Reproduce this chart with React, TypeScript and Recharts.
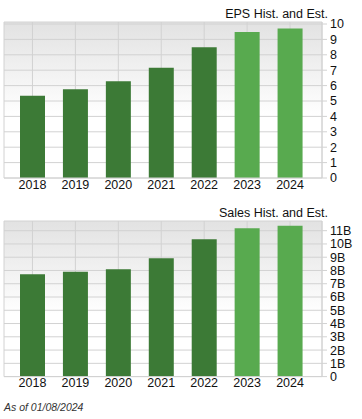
import React from 'react';
import { BarChart, Bar, XAxis, YAxis, CartesianGrid, Cell } from 'recharts';

const years = ['2018', '2019', '2020', '2021', '2022', '2023', '2024'];
const isEstimate = [false, false, false, false, false, true, true];
const epsValues = [5.34, 5.76, 6.28, 7.16, 8.49, 9.48, 9.7];
const salesValuesB = [7.71, 7.91, 8.09, 8.92, 10.35, 11.18, 11.38];
const epsTicks = [0, 1, 2, 3, 4, 5, 6, 7, 8, 9, 10];
const salesTicks = [0, 1, 2, 3, 4, 5, 6, 7, 8, 9, 10, 11];

const epsData = years.map((y, i) => ({ year: y, value: epsValues[i], est: isEstimate[i] }));
const salesData = years.map((y, i) => ({ year: y, value: salesValuesB[i], est: isEstimate[i] }));

const DARK = '#3c7a36';
const LIGHT = '#58aa4f';
const GRID = '#d2d2d2';
const FONT = '"Liberation Sans", Arial, Helvetica, sans-serif';

function Panel({ id, data, ticks, domainMax, fmt, title, top, height, marginTop, marginBottom }: any) {
  return (
    <div style={{ position: 'absolute', left: 0, top, width: 362, height }}>
      <BarChart
        width={362}
        height={height}
        data={data}
        margin={{ top: marginTop, right: 0, left: 4, bottom: marginBottom }}
        barSize={25}
      >
        <defs>
          <linearGradient id={id} x1="0" y1="0" x2="0" y2="1">
            <stop offset="0" stopColor="#e2e2e2" />
            <stop offset="0.6" stopColor="#ffffff" />
            <stop offset="1" stopColor="#ffffff" />
          </linearGradient>
        </defs>
        <CartesianGrid stroke={GRID} fill={`url(#${id})`} fillOpacity={1} />
        <XAxis
          dataKey="year"
          padding={{ left: 7, right: 10.5 }}
          tickLine={false}
          axisLine={{ stroke: GRID }}
          height={17}
          tickSize={0}
          tickMargin={2}
          tick={{ fill: '#111', fontSize: 12.5, fontFamily: FONT }}
          interval={0}
        />
        <YAxis
          orientation="right"
          width={40}
          domain={[0, domainMax]}
          ticks={ticks}
          interval={0}
          tickFormatter={fmt}
          axisLine={{ stroke: GRID }}
          tickLine={{ stroke: GRID }}
          tickSize={5}
          tickMargin={3}
          tick={{ fill: '#111', fontSize: 12.5, fontFamily: FONT, textAnchor: 'start' }}
        />
        <Bar dataKey="value" isAnimationActive={false}>
          {data.map((d: any, i: number) => (
            <Cell key={i} fill={d.est ? LIGHT : DARK} />
          ))}
        </Bar>
      </BarChart>
      <div
        style={{
          position: 'absolute',
          right: 362 - 328,
          top: marginTop - 15,
          fontFamily: FONT,
          fontSize: 12.5,
          color: '#111',
          whiteSpace: 'nowrap',
          lineHeight: '14px',
        }}
      >
        {title}
      </div>
    </div>
  );
}

export default function App() {
  return (
    <div style={{ position: 'absolute', left: 0, top: 0, width: 362, height: 419, background: '#fff' }}>
      <Panel
        id="gEps"
        data={epsData}
        ticks={epsTicks}
        domainMax={10.13}
        fmt={(v: number) => String(v)}
        title="EPS Hist. and Est."
        top={0}
        height={197}
        marginTop={22}
        marginBottom={2}
      />
      <Panel
        id="gSales"
        data={salesData}
        ticks={salesTicks}
        domainMax={11.73}
        fmt={(v: number) => (v === 0 ? '0' : `${v}B`)}
        title="Sales Hist. and Est."
        top={195}
        height={201}
        marginTop={26}
        marginBottom={2.4}
      />
      <div
        style={{
          position: 'absolute',
          left: 4,
          top: 401,
          fontFamily: FONT,
          fontStyle: 'italic',
          fontSize: 10.5,
          color: '#333',
          whiteSpace: 'nowrap',
        }}
      >
        As of 01/08/2024
      </div>
    </div>
  );
}
